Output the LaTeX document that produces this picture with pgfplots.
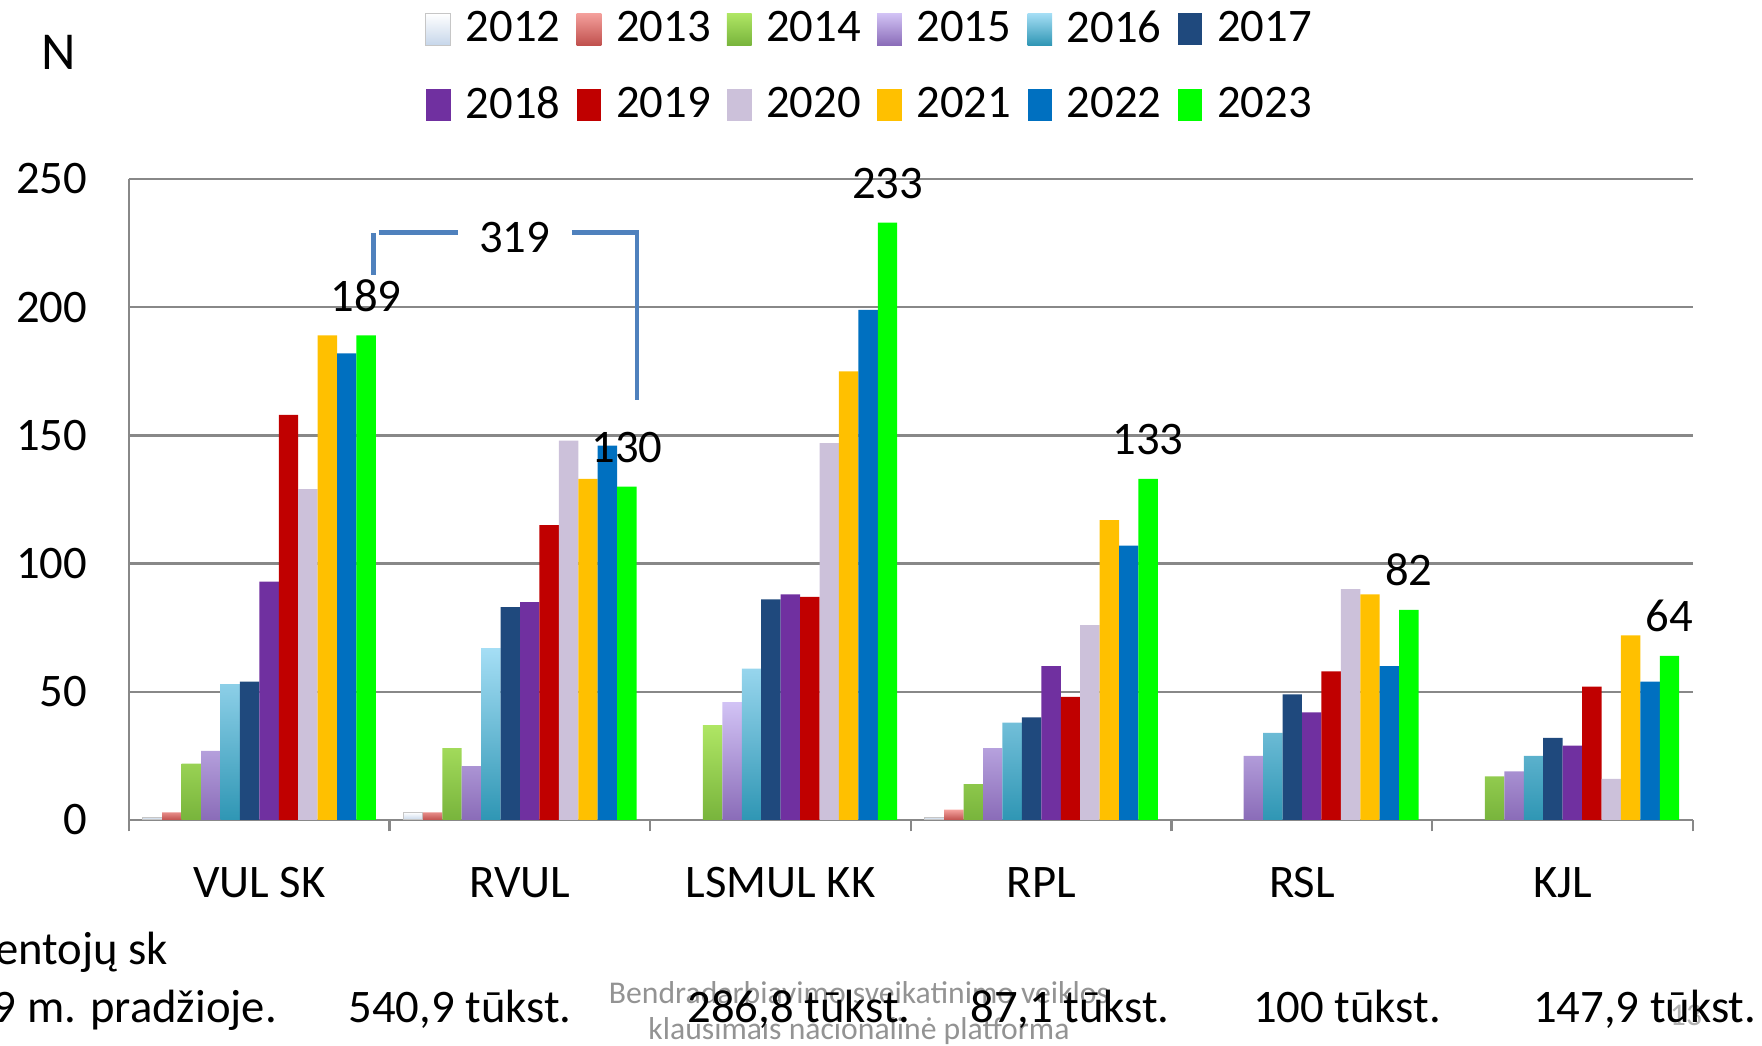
\documentclass[border=0pt]{standalone}
\usepackage{fontspec}
\setmainfont{Carlito}
\usepackage{pgfplots}
\pgfplotsset{compat=1.18}
\definecolor{gridgray}{HTML}{888888}
\definecolor{c12}{HTML}{C6D6EA}
\definecolor{c13t}{HTML}{F4A09C}
\definecolor{c13b}{HTML}{C0504D}
\definecolor{c14t}{HTML}{AFE664}
\definecolor{c14b}{HTML}{78B43C}
\definecolor{c15t}{HTML}{D2C3F5}
\definecolor{c15b}{HTML}{8A6CB8}
\definecolor{c16t}{HTML}{A5DEF5}
\definecolor{c16b}{HTML}{2F96B4}
\definecolor{c17}{HTML}{1F497D}
\definecolor{c18}{HTML}{7030A0}
\definecolor{c19}{HTML}{C00000}
\definecolor{c20}{HTML}{CCC1DA}
\definecolor{c21}{HTML}{FFC000}
\definecolor{c22}{HTML}{0070C0}
\definecolor{c23}{HTML}{00FF00}
\definecolor{brk}{HTML}{4F81BD}
\newcommand{\fs}{\fontsize{14}{16.8}\selectfont}
\pgfplotsset{
  mybar/.style={ybar, bar width=0.0745, bar shift=#1,
    legend image code/.code={\path[##1] (0pt,-4.8pt) rectangle (7.4pt,4.8pt);}},
}
\begin{document}
\begin{tikzpicture}
\useasboundingbox (0,0) rectangle (528.6pt,313.8pt);
\begin{axis}[
  at={(38.7pt,67.8pt)}, anchor=south west,
  scale only axis, width=469.2pt, height=192.3pt,
  xmin=-0.5, xmax=5.5, ymin=0, ymax=250,
  ybar,
  xtick={0,1,2,3,4,5},
  xticklabels={VUL SK,RVUL,LSMUL KK,RPL,RSL,KJL},
  minor xtick={-0.5,0.5,1.5,2.5,3.5,4.5,5.5},
  ytick={0,50,100,150,200,250},
  ymajorgrids,
  major grid style={gridgray, line width=0.7pt},
  axis x line*=bottom, axis y line*=left,
  axis line style={-, gridgray, line width=0.7pt},
  tick align=outside,
  major tick length=0pt, minor tick length=3.4pt,
  minor tick style={gridgray, line width=0.7pt},
  tick label style={font=\fs},
  /pgf/number format/assume math mode=true,
  yticklabel style={xshift=-9pt},
  xticklabel style={yshift=-10.6pt},
  legend columns=6,
  legend style={at={(0.1891,1.2630)}, anchor=north west, draw=none, fill=none,
    inner sep=0pt, font=\fs, row sep=11.6pt,
    nodes={inner sep=0pt},
    /tikz/every odd column/.append style={column sep=4.4pt},
    /tikz/every even column/.append style={column sep=4.9pt}},
  legend cell align=left,
]
% 2012
\addplot[mybar=-0.4098, top color=white, bottom color=c12, draw=gray!45, line width=0.3pt]
  coordinates {(0,1) (1,3) (3,1)};
% 2013
\addplot[mybar=-0.3353, top color=c13t, bottom color=c13b, draw=none]
  coordinates {(0,3) (1,3) (3,4)};
% 2014
\addplot[mybar=-0.2608, top color=c14t, bottom color=c14b, draw=none]
  coordinates {(0,22) (1,28) (2,37) (3,14) (5,17)};
% 2015
\addplot[mybar=-0.1863, top color=c15t, bottom color=c15b, draw=none]
  coordinates {(0,27) (1,21) (2,46) (3,28) (4,25) (5,19)};
% 2016
\addplot[mybar=-0.1118, top color=c16t, bottom color=c16b, draw=none]
  coordinates {(0,53) (1,67) (2,59) (3,38) (4,34) (5,25)};
% 2017
\addplot[mybar=-0.0373, fill=c17, draw=none]
  coordinates {(0,54) (1,83) (2,86) (3,40) (4,49) (5,32)};
% 2018
\addplot[mybar=0.0373, fill=c18, draw=none]
  coordinates {(0,93) (1,85) (2,88) (3,60) (4,42) (5,29)};
% 2019
\addplot[mybar=0.1118, fill=c19, draw=none]
  coordinates {(0,158) (1,115) (2,87) (3,48) (4,58) (5,52)};
% 2020
\addplot[mybar=0.1863, fill=c20, draw=none]
  coordinates {(0,129) (1,148) (2,147) (3,76) (4,90) (5,16)};
% 2021
\addplot[mybar=0.2608, fill=c21, draw=none]
  coordinates {(0,189) (1,133) (2,175) (3,117) (4,88) (5,72)};
% 2022
\addplot[mybar=0.3353, fill=c22, draw=none]
  coordinates {(0,182) (1,146) (2,199) (3,107) (4,60) (5,54)};
% 2023
\addplot[mybar=0.4098, fill=c23, draw=none,
  nodes near coords,
  every node near coord/.append style={font=\fs, text=black, anchor=south, inner sep=0pt, yshift=7pt}]
  coordinates {(0,189) (1,130) (2,233) (3,133) (4,82) (5,64)};
\legend{2012,2013,2014,2015,2016,2017,2018,2019,2020,2021,2022,2023}
% bracket 319
\draw[brk, line width=1.4pt] (axis cs:0.438,212.6) -- (axis cs:0.438,229.1);
\draw[brk, line width=1.4pt] (axis cs:0.459,229.1) -- (axis cs:0.764,229.1);
\draw[brk, line width=1.4pt] (axis cs:1.199,229.1) -- (axis cs:1.449,229.1) -- (axis cs:1.449,163.8);
\node[font=\fs, inner sep=0pt] at (axis cs:0.979,227) {319};
\end{axis}
\node[font=\fontsize{16}{19}\selectfont, inner sep=0pt] at (17.5pt,298pt) {N};
% footer (gray)
\node[font=\fontsize{9.5}{11}\selectfont, text=gray!85, inner sep=0pt] at (257.7pt,15.9pt) {Bendradarbiavimo sveikatinimo veiklos};
\node[font=\fontsize{9.5}{11}\selectfont, text=gray!85, inner sep=0pt] at (257.7pt,4.4pt) {klausimais nacionalinė platforma};
\node[font=\fontsize{9.5}{11}\selectfont, text=gray!60, inner sep=0pt] at (505.8pt,9.3pt) {13};
% population texts
\node[font=\fs, inner sep=0pt, anchor=base east] at (50.6pt,24.3pt) {Gyventojų sk};
\node[font=\fs, inner sep=0pt, anchor=base east] at (83.25pt,6.9pt) {2019 m. pradžioje.};
\node[font=\fs, inner sep=0pt, anchor=base] at (138pt,6.9pt) {540,9 tūkst.};
\node[font=\fs, inner sep=0pt, anchor=base] at (239.7pt,6.9pt) {286,8 tūkst.};
\node[font=\fs, inner sep=0pt, anchor=base] at (321pt,6.9pt) {87,1 tūkst.};
\node[font=\fs, inner sep=0pt, anchor=base] at (404.1pt,6.9pt) {100 tūkst.};
\node[font=\fs, inner sep=0pt, anchor=base] at (493.4pt,6.9pt) {147,9 tūkst.};
\end{tikzpicture}
\end{document}
